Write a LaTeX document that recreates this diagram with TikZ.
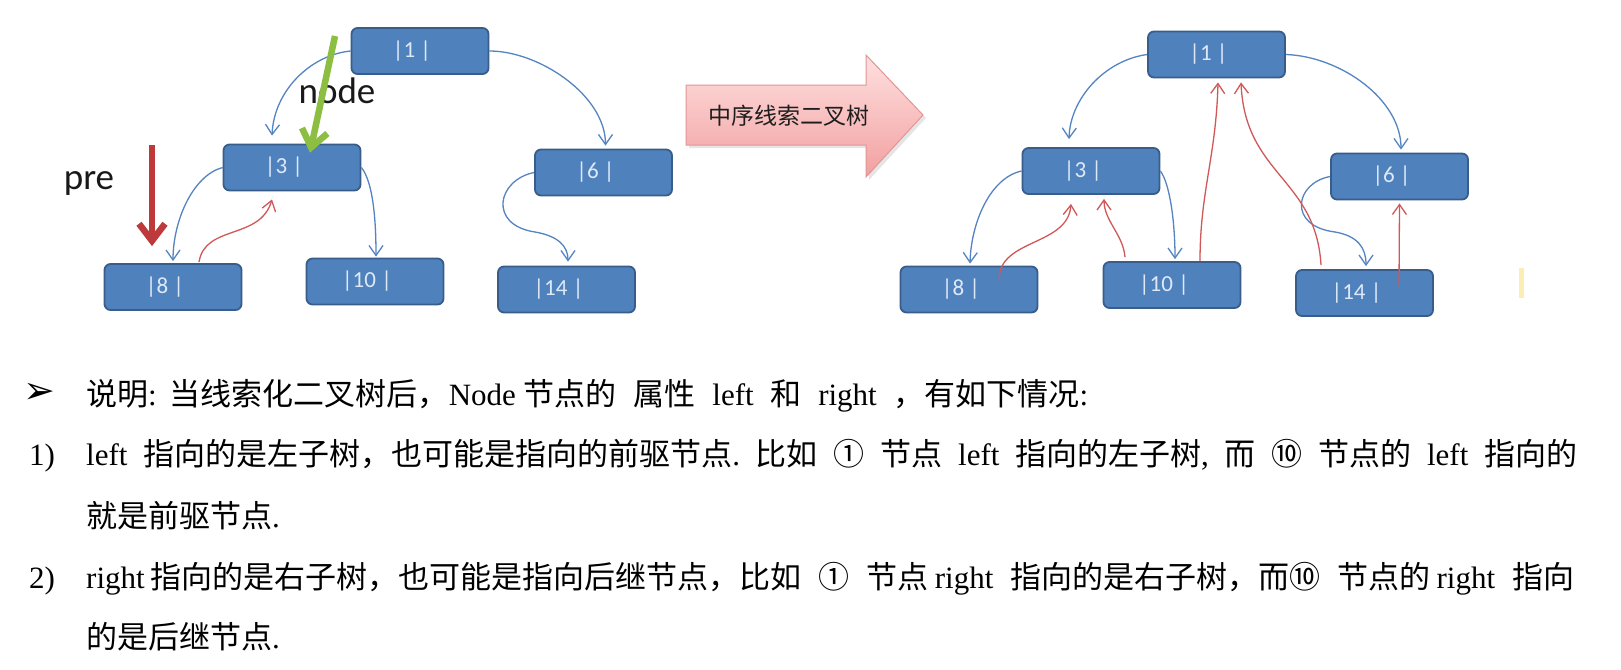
\documentclass[tikz,border=0pt]{standalone}
\usepackage{fontspec}
\setmainfont{Liberation Serif}
\newfontfamily\cjkfont{Noto Sans CJK SC}
\newfontfamily\calfont{Carlito}
\newfontfamily\dvfont{DejaVu Sans}
\usetikzlibrary{arrows.meta,calc}

\definecolor{nodefill}{RGB}{79,129,189}
\definecolor{nodeedge}{RGB}{56,93,138}
\definecolor{linkblue}{RGB}{84,132,194}
\definecolor{linkred}{RGB}{208,88,88}
\definecolor{prered}{RGB}{190,58,58}
\definecolor{nodegreen}{RGB}{140,190,65}
\definecolor{nodetext}{RGB}{222,233,248}
\definecolor{arrowtop}{RGB}{255,224,224}
\definecolor{arrowbot}{RGB}{242,160,160}
\definecolor{arrowedge}{RGB}{226,150,150}
\definecolor{smudge}{RGB}{250,238,180}

\newcommand{\zh}[1]{{\cjkfont #1}}
\newcommand{\nodelbl}[1]{|#1 |\hspace*{16pt}}

\tikzset{
  treenode/.style={draw=nodeedge, line width=1.8pt, fill=nodefill, rounded corners=6pt,
    minimum width=137pt, minimum height=46pt, inner sep=0pt,
    font=\calfont\fontsize{23}{27}\selectfont, text=nodetext},
  childlink/.style={draw=linkblue, line width=1.3pt, -{Straight Barb[length=10pt,width=14pt]}},
  threadlink/.style={draw=linkred, line width=1.3pt, -{Straight Barb[length=10pt,width=14pt]}},
  bigarrow/.style={line width=6.5pt, -{Straight Barb[length=17pt,width=26pt]}},
  pointer/.style={inner sep=0pt, anchor=base, font=\calfont\fontsize{37}{44}\selectfont, text={rgb,255:red,25;green,25;blue,25}},
  para/.style={anchor=base west, inner sep=0pt, font=\fontsize{31}{37}\selectfont},
}

\begin{document}
\begin{tikzpicture}[x=1pt,y=-1pt]
\useasboundingbox (0,0) rectangle (1621,669);
\fill[white] (0,0) rectangle (1621,669);

% ---------- left tree ----------
\node[treenode] (L1) at (420,51) {\nodelbl{1}};
\node[treenode] (L3) at (292,167.5) {\nodelbl{3}};
\node[treenode] (L6) at (603.5,172.5) {\nodelbl{6}};
\node[treenode] (L8) at (173,287) {\nodelbl{8}};
\node[treenode] (L10) at (375,281.5) {\nodelbl{10}};
\node[treenode] (L14) at (566.5,289.5) {\nodelbl{14}};

\node[pointer] (nodetxt) at (337,103) {node};
\node[pointer] (pretxt) at (89,189) {pre};

\draw[childlink] (L1.west) .. controls +(-40,4) and +(2,-45) .. ($(L3.north)+(-20,-8)$);
\draw[childlink] (L1.east) .. controls +(50,0) and +(0,-50) .. ($(L6.north)+(2,-3)$);
\draw[childlink] (L3.west) .. controls +(-30,8) and +(0,-40) .. ($(L8.north)+(0,-2)$);
\draw[childlink] (L3.east) .. controls +(12,15) and +(0,-35) .. ($(L10.north)+(1,-1)$);
\draw[childlink] (L6.west) .. controls (497,180) and (488,225) .. (535,232)
  .. controls (558,236) and (568,246) .. ($(L14.north)+(1.5,-4)$);
\draw[threadlink] ($(L8.north)+(26,-1)$) .. controls +(6,-38) and +(-12,41) .. ($(L3.south)+(-20,8)$);

\coordinate (gstart) at (335,36);
\draw[bigarrow,nodegreen] (gstart) -- ($(L3.north)+(18,9)$);
\coordinate (pstart) at (152,145);
\draw[bigarrow,prered] (pstart) -- ($(L8.north)+(-21,-17)$);

% ---------- transform arrow ----------
\fill[black,opacity=0.10] (689,88) -- (869,88) -- (869,58) -- (926,118) -- (869,180) -- (869,148) -- (689,148) -- cycle;
\draw[draw=arrowedge, line width=1pt, top color=arrowtop, bottom color=arrowbot]
  (686,85) -- (866,85) -- (866,55) -- (923,115) -- (866,177) -- (866,145) -- (686,145) -- cycle;
\node[inner sep=0pt, font=\cjkfont\fontsize{23}{27}\selectfont, text={rgb,255:red,30;green,30;blue,30}] (arrowtxt) at (789,116) {中序线索二叉树};

% ---------- right tree ----------
\node[treenode] (R1) at (1216.5,54.5) {\nodelbl{1}};
\node[treenode] (R3) at (1091,171) {\nodelbl{3}};
\node[treenode] (R6) at (1399.5,176.5) {\nodelbl{6}};
\node[treenode] (R8) at (969,289.5) {\nodelbl{8}};
\node[treenode] (R10) at (1172,285) {\nodelbl{10}};
\node[treenode] (R14) at (1364.5,293) {\nodelbl{14}};

\draw[childlink] (R1.west) .. controls +(-43,6) and +(1,-40) .. ($(R3.north)+(-22,-8)$);
\draw[childlink] (R1.east) .. controls +(55,2) and +(0,-50) .. ($(R6.north)+(1.5,-3)$);
\draw[childlink] (R3.west) .. controls +(-32,7) and +(1,-40) .. ($(R8.north)+(1,-2)$);
\draw[childlink] (R3.east) .. controls +(10,14) and +(0,-35) .. ($(R10.north)+(3,-2)$);
\draw[childlink] (R6.west) .. controls (1295,183) and (1287,226) .. (1335,232)
  .. controls (1358,236) and (1366,248) .. ($(R14.north)+(1.5,-3)$);

\draw[threadlink] ($(R8.north)+(30,13)$) .. controls +(1,-40) and +(-3,42) .. ($(R3.south)+(-20,9)$);
\draw[threadlink] ($(R10.north)+(-47,-4)$) .. controls +(-2,-23) and +(0,22) .. ($(R3.south)+(13,4)$);
\draw[threadlink] ($(R10.north)+(28,0)$) .. controls +(0,-70) and +(-2,75) .. ($(R1.south)+(1.5,4)$);
\draw[threadlink] ($(R14.north)+(-43.5,-4)$) .. controls +(-5,-87) and +(4,93) .. ($(R1.south)+(24.5,4)$);
\draw[threadlink] ($(R14.north)+(34.5,16)$) -- ($(R6.south)+(0,3)$);

\fill[smudge] (1519,268) rectangle (1524,298);

% ---------- explanation text ----------
\node[inner sep=0pt, font=\dvfont\fontsize{38}{44}\selectfont] (bullet) at (39,393) {➢};
\node[para] (line1) at (86,405) {\hbox to 1002pt{\zh{说明}:\hspace{13pt}\zh{当线索化二叉树后，}Node\hspace{8pt}\zh{节点的}\hfill\zh{属性}\hfill left\hfill\zh{和}\hfill right\hfill\zh{，有如下情况}:}};

\node[para] (num1) at (29,465) {1)};
\node[para] (line2) at (86,465) {\hbox to 1491pt{left\hfill\zh{指向的是左子树，也可能是指向的前驱节点}.\hfill\zh{比如}\hfill\zh{①}\hfill\zh{节点}\hfill left\hfill\zh{指向的左子树},\hfill\zh{而}\hfill\zh{⑩}\hfill\zh{节点的}\hfill left\hfill\zh{指向的}}};
\node[para] (line3) at (86,527) {\zh{就是前驱节点}.};

\node[para] (num2) at (29,588) {2)};
\node[para] (line4) at (86,588) {\hbox to 1488pt{right\hspace{6pt}\zh{指向的是右子树，也可能是指向后继节点，比如}\hfill\zh{①}\hfill\zh{节点}\hspace{6pt}right\hfill\zh{指向的是右子树，而⑩}\hfill\zh{节点的}\hspace{6pt}right\hfill\zh{指向}}};
\node[para] (line5) at (86,648) {\zh{的是后继节点}.};
\end{tikzpicture}
\end{document}
